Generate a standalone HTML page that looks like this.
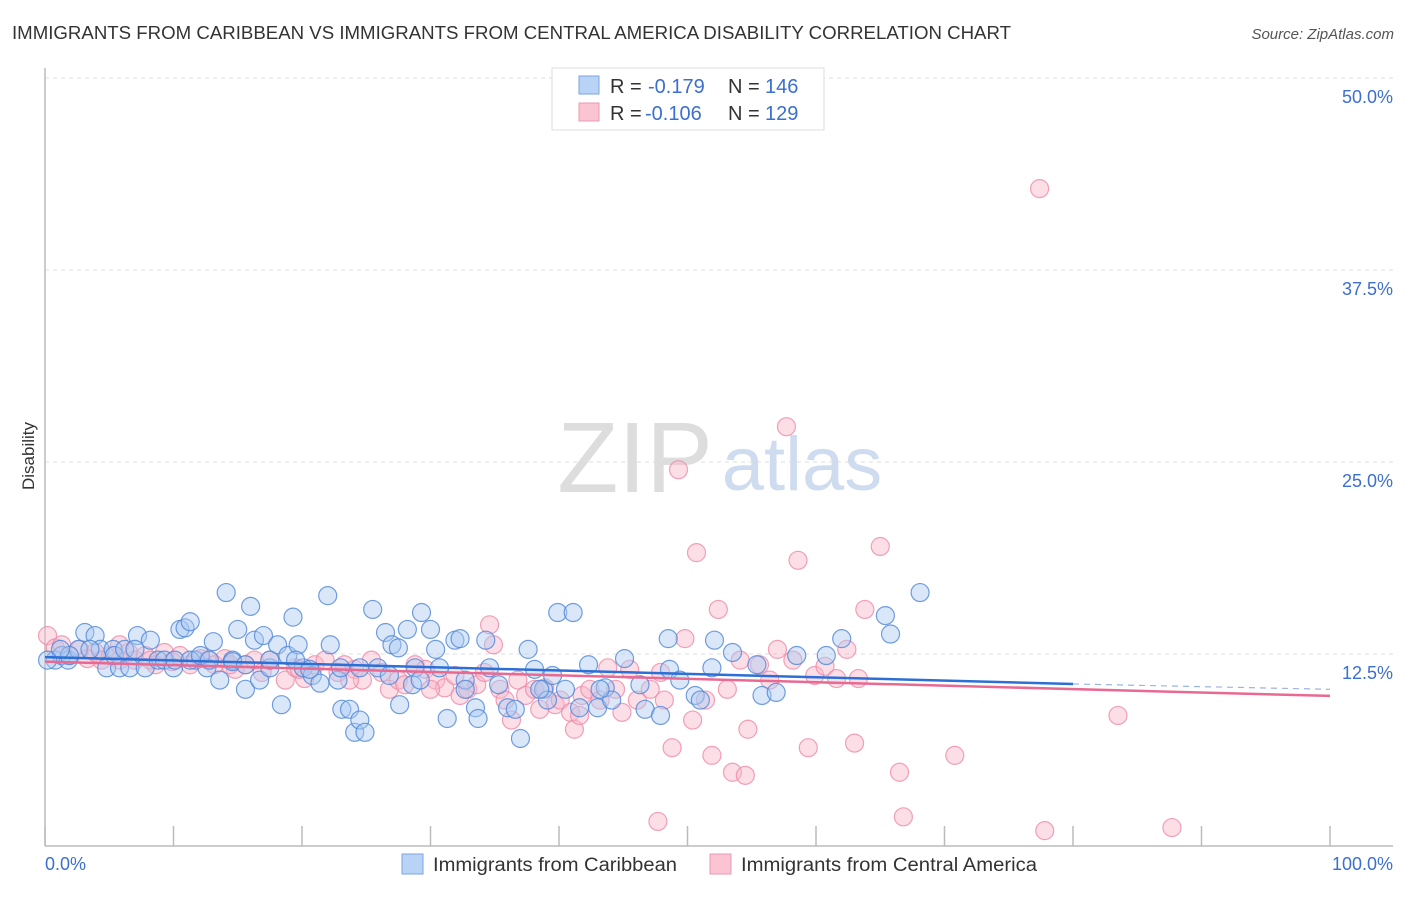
<!DOCTYPE html>
<html><head><meta charset="utf-8"><style>
body{margin:0;background:#fff;font-family:"Liberation Sans",sans-serif;}
svg text{font-family:"Liberation Sans",sans-serif;}
</style></head><body>
<svg id="chart" width="1406" height="892" viewBox="0 0 1406 892" xmlns="http://www.w3.org/2000/svg">
<text x="12" y="39" font-size="18" fill="#333" textLength="999" lengthAdjust="spacingAndGlyphs">IMMIGRANTS FROM CARIBBEAN VS IMMIGRANTS FROM CENTRAL AMERICA DISABILITY CORRELATION CHART</text>
<text x="1394" y="39" font-size="15" fill="#555" font-style="italic" text-anchor="end">Source: ZipAtlas.com</text>
<text x="34" y="456" font-size="17" fill="#333" text-anchor="middle" transform="rotate(-90 34 456)">Disability</text>
<g>
<text x="635" y="492" font-size="100" fill="#ddd" font-family="Liberation Serif" text-anchor="middle">ZIP</text>
<text x="802" y="490" font-size="76" fill="#cfdcf0" text-anchor="middle">atlas</text>
</g>
<g id="grid"></g>
<g id="axes"></g>
<g id="pink"></g>
<g id="blue"></g>
<g id="trends"></g>
<g>
<rect x="552" y="68" width="272" height="62" fill="#fff" stroke="#ddd"/>
<rect x="579" y="76" width="20" height="18" fill="#b8d3f5" stroke="#7aa6e0"/>
<rect x="579" y="103" width="20" height="18" fill="#fac4d3" stroke="#eb98b0"/>
<text x="610" y="93" font-size="20" fill="#333">R =</text>
<text x="648" y="93" font-size="20" fill="#3b6fd0">-0.179</text>
<text x="728" y="93" font-size="20" fill="#333">N =</text>
<text x="765" y="93" font-size="20" fill="#3b6fd0">146</text>
<text x="610" y="120" font-size="20" fill="#333">R =</text>
<text x="645" y="120" font-size="20" fill="#3b6fd0">-0.106</text>
<text x="728" y="120" font-size="20" fill="#333">N =</text>
<text x="765" y="120" font-size="20" fill="#3b6fd0">129</text>
</g>
<g>
<rect x="402" y="854" width="21" height="20" fill="#b8d3f5" stroke="#7aa6e0"/>
<text x="433" y="871" font-size="19" fill="#333" textLength="244" lengthAdjust="spacingAndGlyphs">Immigrants from Caribbean</text>
<rect x="710" y="854" width="21" height="20" fill="#fac4d3" stroke="#eb98b0"/>
<text x="741" y="871" font-size="19" fill="#333" textLength="296" lengthAdjust="spacingAndGlyphs">Immigrants from Central America</text>
</g>
</svg>
<script>
const yTicks=[12.5,25,37.5,50];
const yTickLabels=["12.5%","25.0%","37.5%","50.0%"];
const xTicks=[0,10,20,30,40,50,60,70,80,90,100];
const blueX=[0.8,1.3,1.8,2.6,3.1,3.9,4.3,4.8,5.3,5.8,6.6,7.2,7.8,8.2,8.8,9.3,10.0,10.5,10.9,11.3,11.7,12.6,13.1,13.6,14.1,14.6,15.0,15.6,16.0,16.3,16.7,17.0,17.5,18.1,18.4,18.9,19.3,19.7,20.1,20.8,21.4,22.0,22.2,22.8,23.1,23.7,24.1,24.5,24.9,25.5,25.9,26.5,27.0,27.5,27.6,28.2,28.8,29.3,30.0,30.4,30.7,31.3,31.9,32.3,32.7,33.5,33.7,34.3,34.6,35.3,36.0,36.6,37.0,37.6,38.1,38.8,39.1,39.5,39.9,40.5,41.1,41.6,42.3,43.0,43.6,44.1,45.1,46.3,46.7,47.9,48.5,48.6,49.4,50.6,51.0,51.9,52.1,53.5,55.4,55.8,56.9,58.5,60.8,62.0,65.4,65.8,68.1,1.9,1.2,3.5,5.4,6.2,7.0,10.1,11.3,12.1,12.8,14.6,15.6,17.5,19.5,20.6,23.0,24.5,26.8,28.6,29.2,32.7,38.5,43.2,0.2];
const blueY=[12.1,12.4,12.1,12.8,13.9,13.7,12.8,11.6,12.8,11.6,11.6,13.7,11.6,13.4,12.1,12.1,11.6,14.1,14.2,14.6,12.1,11.6,13.3,10.8,16.5,12.1,14.1,10.2,15.6,13.4,10.8,13.7,11.6,13.1,9.2,12.4,14.9,13.1,11.6,11.1,10.6,16.3,13.1,10.8,8.9,8.9,7.4,8.2,7.4,15.4,11.6,13.9,13.1,12.9,9.2,14.1,11.6,15.2,14.1,12.8,11.6,8.3,13.4,13.5,10.8,9.0,8.3,13.4,11.6,10.5,9.0,8.9,7.0,12.8,11.5,10.2,9.5,11.1,15.2,10.2,15.2,9.0,11.8,9.0,10.3,9.5,12.2,10.5,8.9,8.5,13.5,11.5,10.8,9.8,9.5,11.6,13.4,12.6,11.8,9.8,10.0,12.4,12.4,13.5,15.0,13.8,16.5,12.4,12.8,12.8,12.4,12.8,12.8,12.1,12.1,12.4,12.1,12.0,11.8,12.1,12.1,11.5,11.6,11.6,11.1,10.5,10.8,10.2,10.2,10.2,12.1];
const pinkX=[0.2,0.8,1.3,1.9,2.7,3.3,3.9,4.4,5.1,5.8,6.5,7.0,7.8,8.6,9.3,9.9,10.5,11.3,12.1,12.7,13.2,14.0,14.8,15.6,16.3,16.9,17.5,18.7,19.5,20.2,21.0,21.8,22.8,23.3,24.1,24.7,25.4,26.2,26.8,27.5,28.0,28.8,29.6,30.4,31.1,31.9,32.3,32.9,33.6,34.2,34.6,34.9,35.4,35.8,36.3,36.8,37.4,38.1,38.9,39.7,40.1,40.9,41.2,41.8,42.4,43.2,43.8,44.4,44.9,45.5,46.1,47.1,47.7,47.9,48.2,48.8,49.3,49.8,50.4,50.7,51.4,51.9,52.4,53.1,53.5,54.1,54.5,54.7,55.6,56.4,57.0,57.7,58.2,58.6,59.4,59.9,60.7,61.6,62.4,63.0,63.3,63.8,65.0,66.5,66.8,70.8,77.4,77.8,83.5,87.7,5.8,8.2,14.4,19.8,23.7,30.0,38.5,41.6];
const pinkY=[13.7,12.9,13.1,12.4,12.8,12.2,12.6,12.1,12.4,12.1,12.6,12.1,12.4,11.8,12.6,12.0,12.4,11.8,12.2,12.1,11.8,12.2,11.5,11.8,12.1,11.3,12.1,10.8,11.6,10.9,11.8,12.1,11.3,11.8,11.5,10.8,12.1,11.3,10.2,10.8,10.5,11.8,11.5,10.8,10.3,11.1,9.8,10.2,10.5,11.3,14.4,13.1,10.2,9.5,8.2,10.8,9.8,10.2,10.3,9.2,9.5,8.7,7.6,9.8,10.2,9.5,11.6,10.2,8.7,11.5,9.5,10.2,1.6,11.3,9.5,6.4,24.5,13.5,8.2,19.1,9.5,5.9,15.4,10.2,4.8,12.1,4.6,7.6,11.8,10.8,12.8,27.3,12.1,18.6,6.4,11.1,11.7,10.9,12.8,6.7,10.9,15.4,19.5,4.8,1.9,5.9,42.8,1.0,8.5,1.2,13.1,12.1,11.8,11.5,10.8,10.2,8.9,8.5];
const blueTrend=[12.3,10.55,10.2];
const blueTrendX=[0,80,100];
const pinkTrend=[12.0,9.77];
const pinkTrendX=[0,100];

const NS="http://www.w3.org/2000/svg";
const X0=45,X1=1330,Y0=846,Y50=78;
const xs=v=>X0+(X1-X0)*v/100;
const ys=v=>Y0-(Y0-Y50)*v/50;
function mk(tag,attrs,parent){const e=document.createElementNS(NS,tag);for(const k in attrs)e.setAttribute(k,attrs[k]);parent.appendChild(e);return e;}
const grid=document.getElementById('grid'),axes=document.getElementById('axes');
yTicks.forEach((t,i)=>{
  const l=mk('line',{x1:X0,x2:1393,y1:ys(t),y2:ys(t),stroke:'#ddd','stroke-dasharray':'4,4'},grid);
  
  
  const tx=mk('text',{x:1393,y:ys(t)+25,'font-size':18,fill:'#3b6fd0','text-anchor':'end'},axes);
  tx.textContent=yTickLabels[i];
  
  
});
let a=mk('line',{x1:X0,x2:X0,y1:68,y2:Y0,stroke:'#bbb','stroke-width':1.5},axes);


a=mk('line',{x1:X0,x2:1393,y1:Y0,y2:Y0,stroke:'#bbb','stroke-width':1.5},axes);


xTicks.forEach(t=>{
  const l=mk('line',{x1:xs(t),x2:xs(t),y1:826,y2:Y0,stroke:'#bbb','stroke-width':1.5},axes);
  
  
});
let t0=mk('text',{x:45,y:870,'font-size':18,fill:'#3b6fd0'},axes);t0.textContent='0.0%';


let t1=mk('text',{x:1393,y:870,'font-size':18,fill:'#3b6fd0','text-anchor':'end'},axes);t1.textContent='100.0%';


function dots(xa,ya,g,fill,stroke,name){
  xa.forEach((x,i)=>{
    const c=mk('circle',{cx:xs(x),cy:ys(ya[i]),r:9,fill:fill,'fill-opacity':0.45,stroke:stroke,'stroke-opacity':0.8,'stroke-width':1.2},g);
    
    
  });
}
dots(pinkX,pinkY,document.getElementById('pink'),'#f9b6c9','#ef8aa8','central-america-point');
dots(blueX,blueY,document.getElementById('blue'),'#aac9f2','#4f86d8','caribbean-point');
const tr=document.getElementById('trends');
let p=mk('line',{x1:xs(pinkTrendX[0]),y1:ys(pinkTrend[0]),x2:xs(pinkTrendX[1]),y2:ys(pinkTrend[1]),stroke:'#e86a93','stroke-width':2.5},tr);


let b=mk('line',{x1:xs(blueTrendX[0]),y1:ys(blueTrend[0]),x2:xs(blueTrendX[1]),y2:ys(blueTrend[1]),stroke:'#2c6fd6','stroke-width':2.5},tr);


let bd=mk('line',{x1:xs(blueTrendX[1]),y1:ys(blueTrend[1]),x2:xs(blueTrendX[2]),y2:ys(blueTrend[2]),stroke:'#9ab4dc','stroke-width':1.2,'stroke-dasharray':'6,5'},tr);


</script>
</body></html>
